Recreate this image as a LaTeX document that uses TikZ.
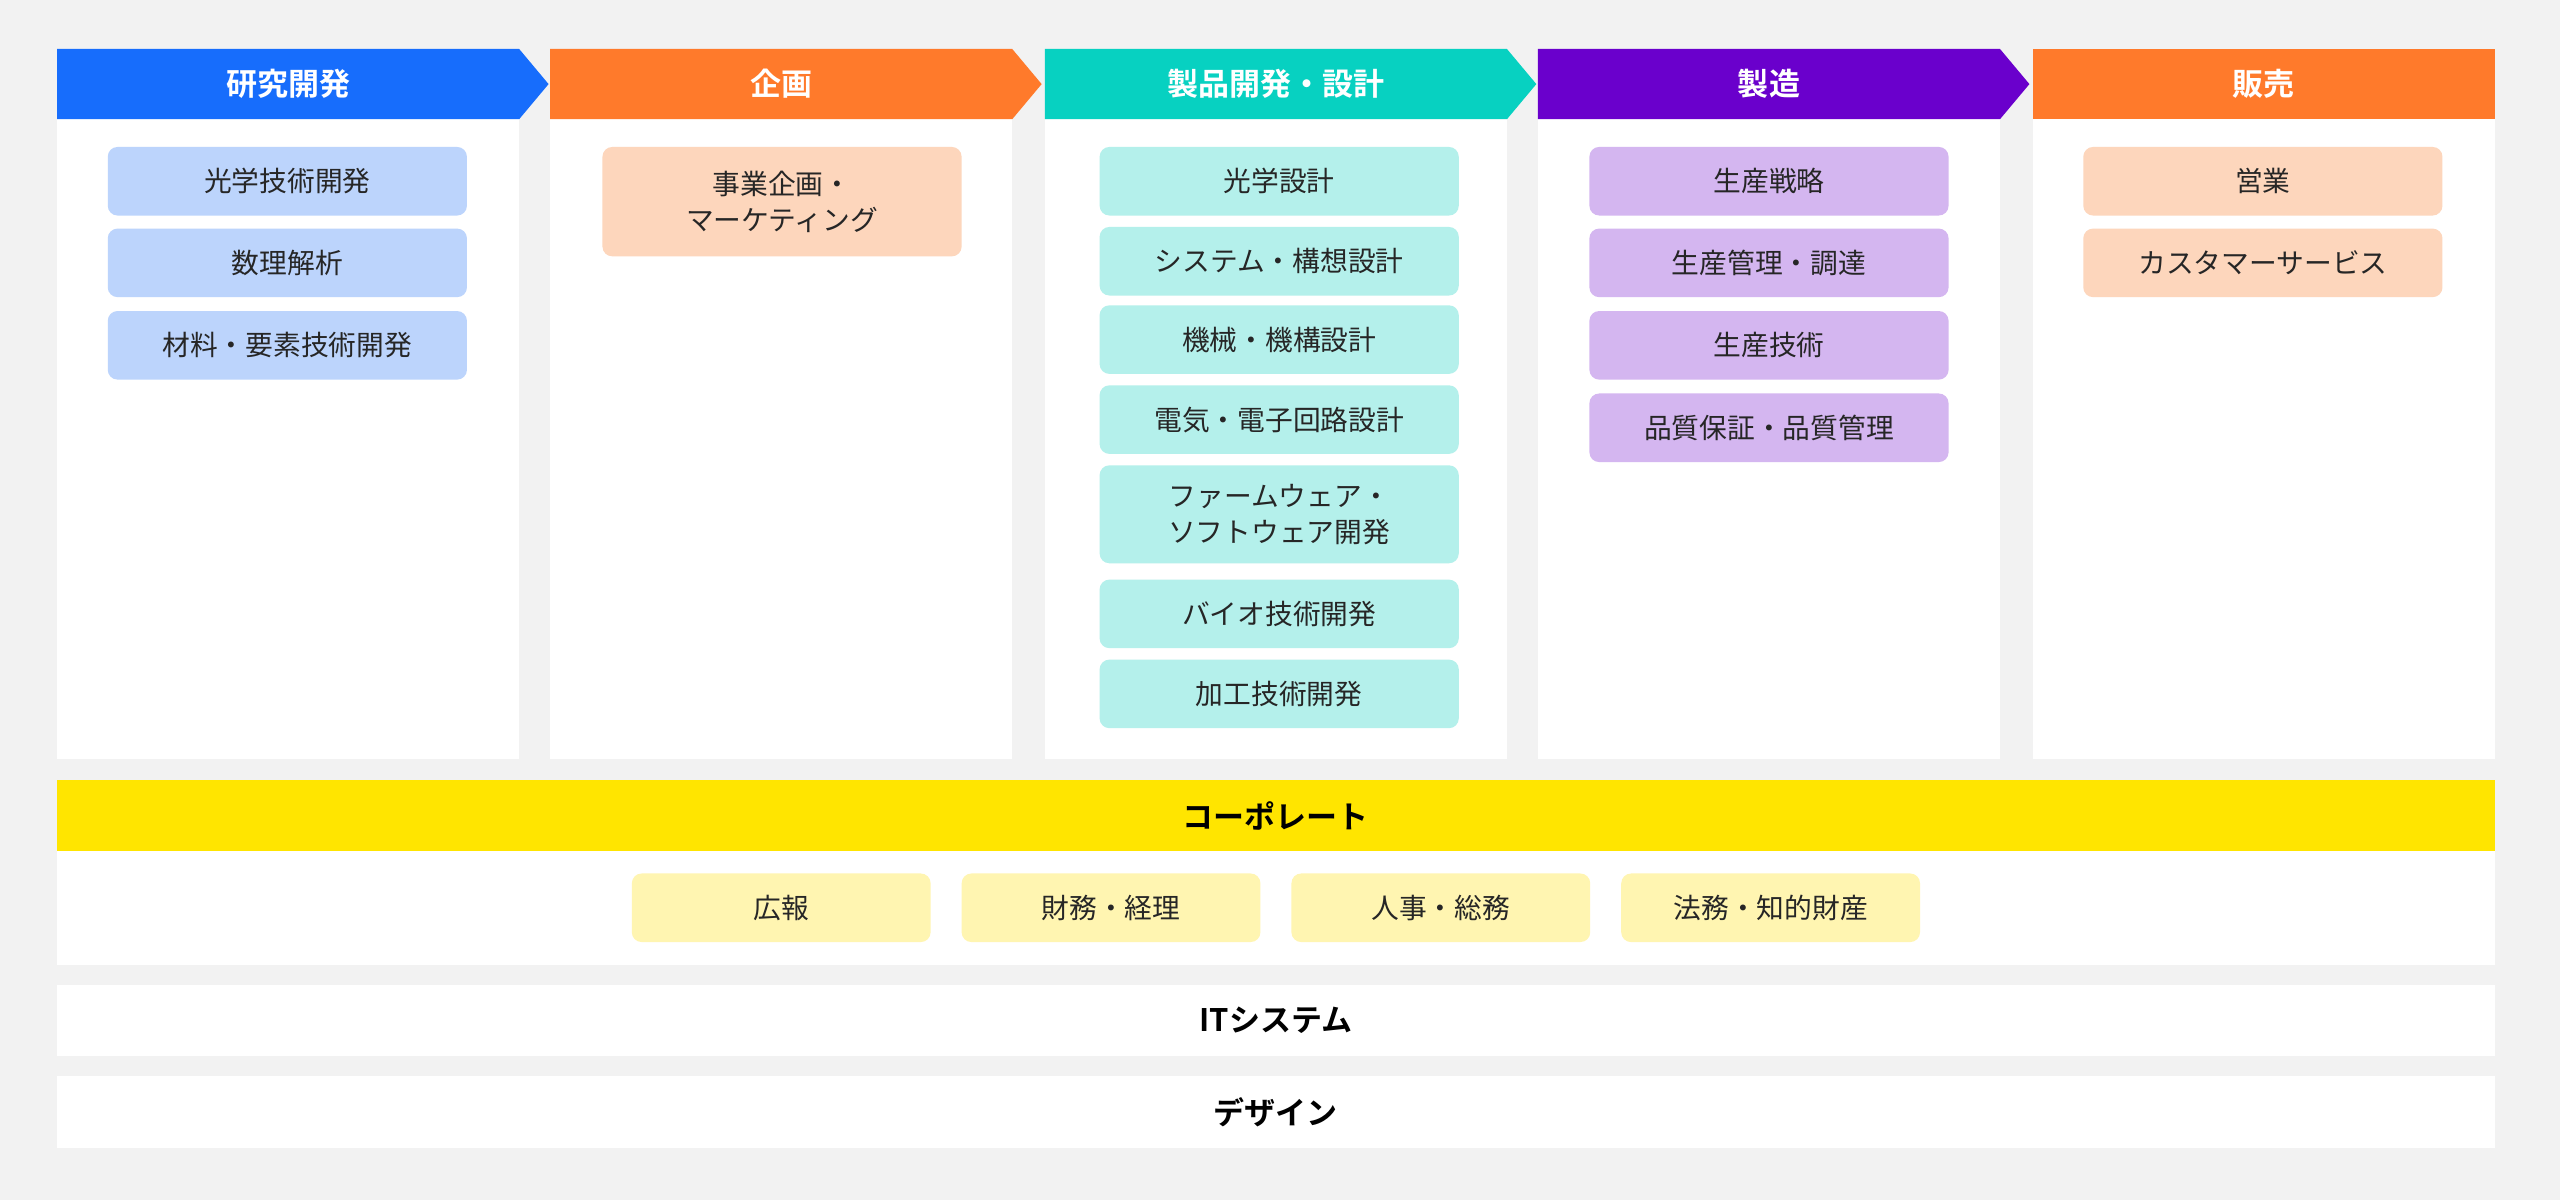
\documentclass[tikz,border=0pt]{standalone}
\usepackage{fontspec}
\setmainfont{Noto Sans CJK JP}
\newfontfamily\boldjp{Noto Sans CJK JP Bold}
\begin{document}
\begin{tikzpicture}[x=0.5pt,y=-0.5pt,
  hdtext/.style={text=white,font=\boldjp\fontsize{9.5}{11}\selectfont},
  bartext/.style={text=black,font=\boldjp\fontsize{9.5}{11}\selectfont},
  item/.style={rounded corners=3pt,minimum width=110pt,minimum height=21pt,inner sep=0pt,align=center,font=\fontsize{8.5}{11}\selectfont,text=black!85}]
\definecolor{bg}{HTML}{F2F2F2}
\definecolor{cblue}{HTML}{176DFC}\definecolor{lblue}{HTML}{BCD4FC}
\definecolor{corange}{HTML}{FF7A2B}\definecolor{lorange}{HTML}{FDD6BC}
\definecolor{cteal}{HTML}{07D1C1}\definecolor{lteal}{HTML}{B4F0EB}
\definecolor{cpurple}{HTML}{6A00CC}\definecolor{lpurple}{HTML}{D4B6F0}
\definecolor{cyellow}{HTML}{FFE500}\definecolor{lyellow}{HTML}{FFF5B1}
\fill[bg] (0,0) rectangle (1568,735);
\useasboundingbox (0,0) rectangle (1568,735);
% column bodies
\foreach \a in {35,337,640,942,1245}{\fill[white] (\a,73) rectangle (\a+283,465);}
% headers
\fill[cblue] (35,30) -- (318,30) -- (336,51.5) -- (318,73) -- (35,73) -- cycle;
\fill[corange] (337,30) -- (620,30) -- (638,51.5) -- (620,73) -- (337,73) -- cycle;
\fill[cteal] (640,30) -- (923,30) -- (941,51.5) -- (923,73) -- (640,73) -- cycle;
\fill[cpurple] (942,30) -- (1225,30) -- (1243,51.5) -- (1225,73) -- (942,73) -- cycle;
\fill[corange] (1245,30) rectangle (1528,73);
\node[hdtext] (h1) at (176.5,51.5) {研究開発};
\node[hdtext] (h2) at (478.5,51.5) {企画};
\node[hdtext] (h3) at (781.5,51.5) {製品開発・設計};
\node[hdtext] (h4) at (1083.5,51.5) {製造};
\node[hdtext] (h5) at (1386.5,51.5) {販売};
% col1
\node[item,fill=lblue] (a1) at (176,111) {光学技術開発};
\node[item,fill=lblue] (a2) at (176,161) {数理解析};
\node[item,fill=lblue] (a3) at (176,211.5) {材料・要素技術開発};
% col2
\node[item,fill=lorange,minimum height=33.5pt] (b1) at (479,123.5) {事業企画・\\マーケティング};
% col3
\node[item,fill=lteal] (c1) at (783.5,111) {光学設計};
\node[item,fill=lteal] (c2) at (783.5,160) {システム・構想設計};
\node[item,fill=lteal] (c3) at (783.5,208) {機械・機構設計};
\node[item,fill=lteal] (c4) at (783.5,257) {電気・電子回路設計};
\node[item,fill=lteal,minimum height=30pt] (c5) at (783.5,315) {ファームウェア・\\ソフトウェア開発};
\node[item,fill=lteal] (c6) at (783.5,376) {バイオ技術開発};
\node[item,fill=lteal] (c7) at (783.5,425) {加工技術開発};
% col4
\node[item,fill=lpurple] (d1) at (1083.5,111) {生産戦略};
\node[item,fill=lpurple] (d2) at (1083.5,161) {生産管理・調達};
\node[item,fill=lpurple] (d3) at (1083.5,211.5) {生産技術};
\node[item,fill=lpurple] (d4) at (1083.5,262) {品質保証・品質管理};
% col5
\node[item,fill=lorange] (e1) at (1386,111) {営業};
\node[item,fill=lorange] (e2) at (1386,161) {カスタマーサービス};
% corporate
\fill[cyellow] (35,478) rectangle (1528,521);
\fill[white] (35,521) rectangle (1528,591);
\node[bartext] (corp) at (781.5,499.5) {コーポレート};
\node[item,fill=lyellow,minimum width=91.5pt] (f1) at (478.5,556) {広報};
\node[item,fill=lyellow,minimum width=91.5pt] (f2) at (680.5,556) {財務・経理};
\node[item,fill=lyellow,minimum width=91.5pt] (f3) at (882.5,556) {人事・総務};
\node[item,fill=lyellow,minimum width=91.5pt] (f4) at (1084.5,556) {法務・知的財産};
% IT and design
\fill[white] (35,603) rectangle (1528,647);
\fill[white] (35,659) rectangle (1528,703);
\node[bartext] (it) at (781.5,625) {ITシステム};
\node[bartext] (ds) at (781.5,681) {デザイン};
\end{tikzpicture}
\end{document}
